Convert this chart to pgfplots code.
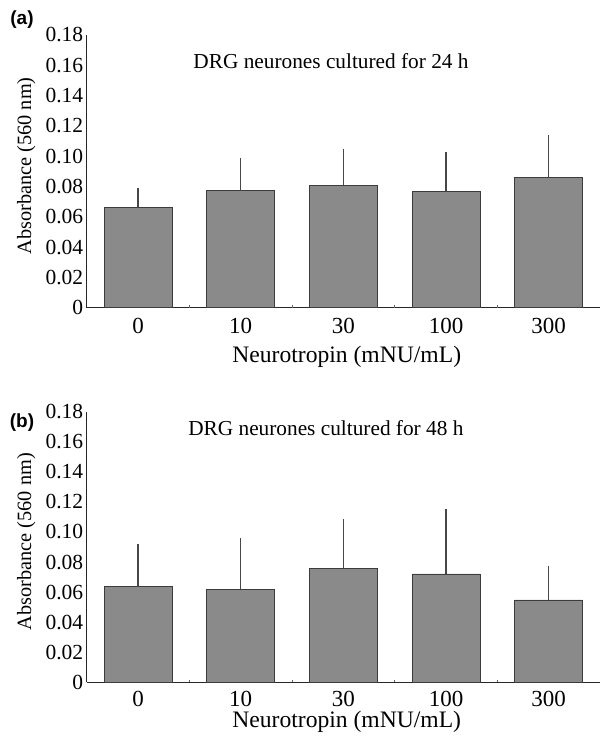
\documentclass[border=0pt]{standalone}
\usepackage{pgfplots}
\pgfplotsset{compat=1.18}
\usepackage{fontspec}
\setmainfont{Liberation Serif}
\newfontfamily\arialbold[BoldFont={Liberation Sans Bold}]{Liberation Sans}
\definecolor{barfill}{RGB}{138,138,138}
\definecolor{baredge}{RGB}{60,60,60}

\pgfplotsset{
  panel/.style={
    scale only axis,
    width=513.3bp,
    xmin=-0.5, xmax=4.5,
    ymin=0, ymax=0.18,
    axis x line=bottom, axis y line=left,
    axis line style={-, line width=0.9bp, black!85},
    xtick={0,1,2,3,4},
    xticklabels={0,10,30,100,300},
    ytick={0,0.02,0.04,0.06,0.08,0.10,0.12,0.14,0.16,0.18},
    yticklabels={0,0.02,0.04,0.06,0.08,0.10,0.12,0.14,0.16,0.18},
    major tick length=0pt,
    extra x ticks={0.5,1.5,2.5,3.5},
    extra x tick labels={},
    extra x tick style={major tick length=2.5bp, tick align=inside, tick style={black!60, line width=1bp}},
    yticklabel style={font=\fontsize{21.5bp}{25bp}\selectfont},
    xticklabel style={font=\fontsize{23bp}{27bp}\selectfont, anchor=center},
    ylabel={Absorbance (560 nm)},
    ylabel style={font=\fontsize{20.3bp}{24bp}\selectfont, at={(axis description cs:-0.118,0.52)}, anchor=center},
    xlabel={Neurotropin (mNU/mL)},
    xlabel style={font=\fontsize{23.6bp}{28bp}\selectfont, anchor=center},
    clip=false,
  },
  mybar/.style={
    ybar, bar width=68bp, bar shift=0pt,
    fill=barfill, draw=baredge, line width=0.7bp,
    error bars/.cd, y dir=plus, y explicit,
    error bar style={line width=1.5bp, black!72},
    error mark=-,
    error mark options={mark size=1.8bp, line width=1.5bp, black!72},
  }
}

\begin{document}
\begin{tikzpicture}
\path[use as bounding box] (-86.7bp,-431.4bp) rectangle (513.3bp,307.6bp);

% Panel (a)
\begin{axis}[panel, height=272.6bp, at={(0bp,0bp)}, anchor=south west,
  xticklabel style={yshift=-18.7bp},
  xlabel style={at={(axis description cs:0.5066,0)}, yshift=-49bp}]
\addplot[mybar] coordinates {
  (0,0.0662) +- (0,0.0119)
  (1,0.0772) +- (0,0.0202)
  (2,0.0809) +- (0,0.0227)
  (3,0.0768) +- (0,0.0246)
  (4,0.0858) +- (0,0.0270)
};
\node[font=\fontsize{21.3bp}{25bp}\selectfont, anchor=center] at (axis description cs:0.476,1) [yshift=-26bp] {DRG neurones cultured for 24 h};
\node[font=\arialbold\bfseries\fontsize{19bp}{23bp}\selectfont, anchor=center] at (axis description cs:0,1) [xshift=-64.7bp, yshift=15bp] {(a)};
\end{axis}

% Panel (b)
\begin{axis}[panel, height=270.6bp, at={(0bp,-374.7bp)}, anchor=south west,
  xticklabel style={yshift=-17bp},
  xlabel style={at={(axis description cs:0.5066,0)}, yshift=-40bp}]
\addplot[mybar] coordinates {
  (0,0.0636) +- (0,0.0273)
  (1,0.0619) +- (0,0.0328)
  (2,0.0758) +- (0,0.0317)
  (3,0.0721) +- (0,0.0421)
  (4,0.0548) +- (0,0.0212)
};
\node[font=\fontsize{21.3bp}{25bp}\selectfont, anchor=center] at (axis description cs:0.466,1) [yshift=-16bp] {DRG neurones cultured for 48 h};
\node[font=\arialbold\bfseries\fontsize{19bp}{23bp}\selectfont, anchor=center] at (axis description cs:0,1) [xshift=-64.7bp, yshift=-10.7bp] {(b)};
\end{axis}
\end{tikzpicture}
\end{document}
